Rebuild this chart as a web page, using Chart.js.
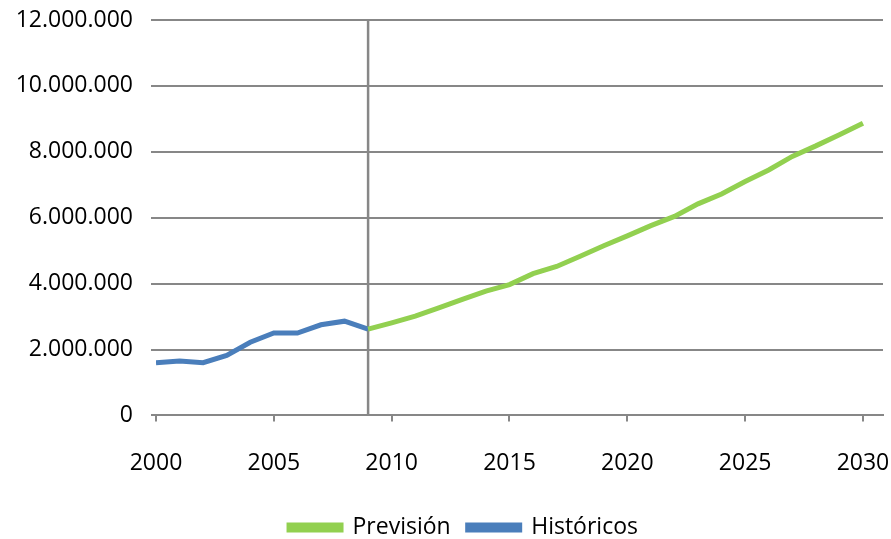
<!DOCTYPE html>
<html>
<head>
<meta charset="utf-8">
<script src="https://cdn.jsdelivr.net/npm/chart.js@4/dist/chart.umd.min.js"></script>
<style>
  html, body { margin: 0; padding: 0; background: #ffffff; }
  #contenedor { width: 891px; height: 539px; }
</style>
</head>
<body>
<div id="contenedor"><canvas id="grafico"></canvas></div>
<script>
// datos históricos (2000-2009)
var anosHist = [2000, 2001, 2002, 2003, 2004, 2005, 2006, 2007, 2008, 2009];
var historicos = [1600000, 1650000, 1600000, 1820000, 2220000, 2500000, 2500000, 2750000, 2860000, 2620000];

// previsión (2009-2030)
var anosPrev = [2009, 2010, 2011, 2012, 2013, 2014, 2015, 2016, 2017, 2018, 2019,
                2020, 2021, 2022, 2023, 2024, 2025, 2026, 2027, 2028, 2029, 2030];
var prevision = [2620000, 2810000, 3010000, 3260000, 3520000, 3770000, 3970000, 4300000, 4520000, 4830000, 5150000,
                 5450000, 5760000, 6040000, 6420000, 6720000, 7100000, 7450000, 7860000, 8180000, 8520000, 8870000];

// año de corte entre históricos y previsión
var anoCorte = 2009;
var ticksX = [2000, 2005, 2010, 2015, 2020, 2025, 2030];
var ticksY = [0, 2000000, 4000000, 6000000, 8000000, 10000000, 12000000];

var GRIS = "#878787";
var VERDE = "#92d050";
var AZUL = "#4a7ebb";

function puntos(xs, ys) {
  var r = [];
  for (var i = 0; i < xs.length; i++) r.push({ x: xs[i], y: ys[i] });
  return r;
}

var fuente = { family: "'Open Sans', sans-serif", size: 23 };

// recoloca la leyenda (un poco a la derecha y más arriba)
var desplazaLeyenda = {
  id: "desplazaLeyenda",
  afterLayout: function (chart) {
    if (chart.legend) {
      chart.legend.left += 22;
      chart.legend.right += 22;
      chart.legend.top -= 6;
      chart.legend.bottom -= 6;
    }
  }
};

new Chart(document.getElementById("grafico"), {
  type: "line",
  data: {
    datasets: [
      {
        label: "Previsión",
        data: puntos(anosPrev, prevision),
        borderColor: VERDE,
        backgroundColor: VERDE,
        borderWidth: 5,
        pointRadius: 0,
        tension: 0
      },
      {
        label: "Históricos",
        data: puntos(anosHist, historicos),
        borderColor: AZUL,
        backgroundColor: AZUL,
        borderWidth: 5,
        pointRadius: 0,
        tension: 0
      },
      {
        label: "corte",
        data: [{ x: anoCorte, y: ticksY[0] }, { x: anoCorte, y: ticksY[ticksY.length - 1] }],
        borderColor: GRIS,
        borderWidth: 2.5,
        pointRadius: 0,
        order: 5
      }
    ]
  },
  plugins: [desplazaLeyenda],
  options: {
    responsive: true,
    maintainAspectRatio: false,
    animation: false,
    layout: { padding: { top: 20, right: 8, left: 0, bottom: -16 } },
    plugins: {
      tooltip: { enabled: false },
      legend: {
        position: "bottom",
        labels: {
          filter: function (item) { return item.text !== "corte"; },
          boxWidth: 52,
          boxHeight: 5,
          padding: 17,
          color: "#000000",
          font: fuente
        }
      }
    },
    scales: {
      x: {
        type: "linear",
        min: ticksX[0],
        max: 2030.85,
        afterBuildTicks: function (scale) {
          scale.ticks = ticksX.map(function (v) { return { value: v }; });
        },
        afterFit: function (scale) {
          scale.paddingLeft = 0;
          scale.paddingRight = 0;
        },
        grid: { drawOnChartArea: false, drawTicks: true, tickLength: 6, color: GRIS, lineWidth: 2 },
        border: { display: true, color: GRIS, width: 2 },
        ticks: {
          color: "#000000",
          font: fuente,
          padding: 28,
          maxRotation: 0,
          autoSkip: false,
          callback: function (v) { return String(v); }
        }
      },
      y: {
        min: ticksY[0],
        max: ticksY[ticksY.length - 1],
        afterFit: function (scale) {
          scale.width = 156;
          scale.paddingTop = 0;
          scale.paddingBottom = 0;
        },
        afterBuildTicks: function (scale) {
          scale.ticks = ticksY.map(function (v) { return { value: v }; });
        },
        grid: { drawTicks: true, tickLength: 5, color: GRIS, lineWidth: 2 },
        border: { display: false },
        ticks: {
          color: "#000000",
          font: fuente,
          padding: 18,
          callback: function (v) { return v.toLocaleString("de-DE"); }
        }
      }
    }
  }
});
</script>
</body>
</html>
